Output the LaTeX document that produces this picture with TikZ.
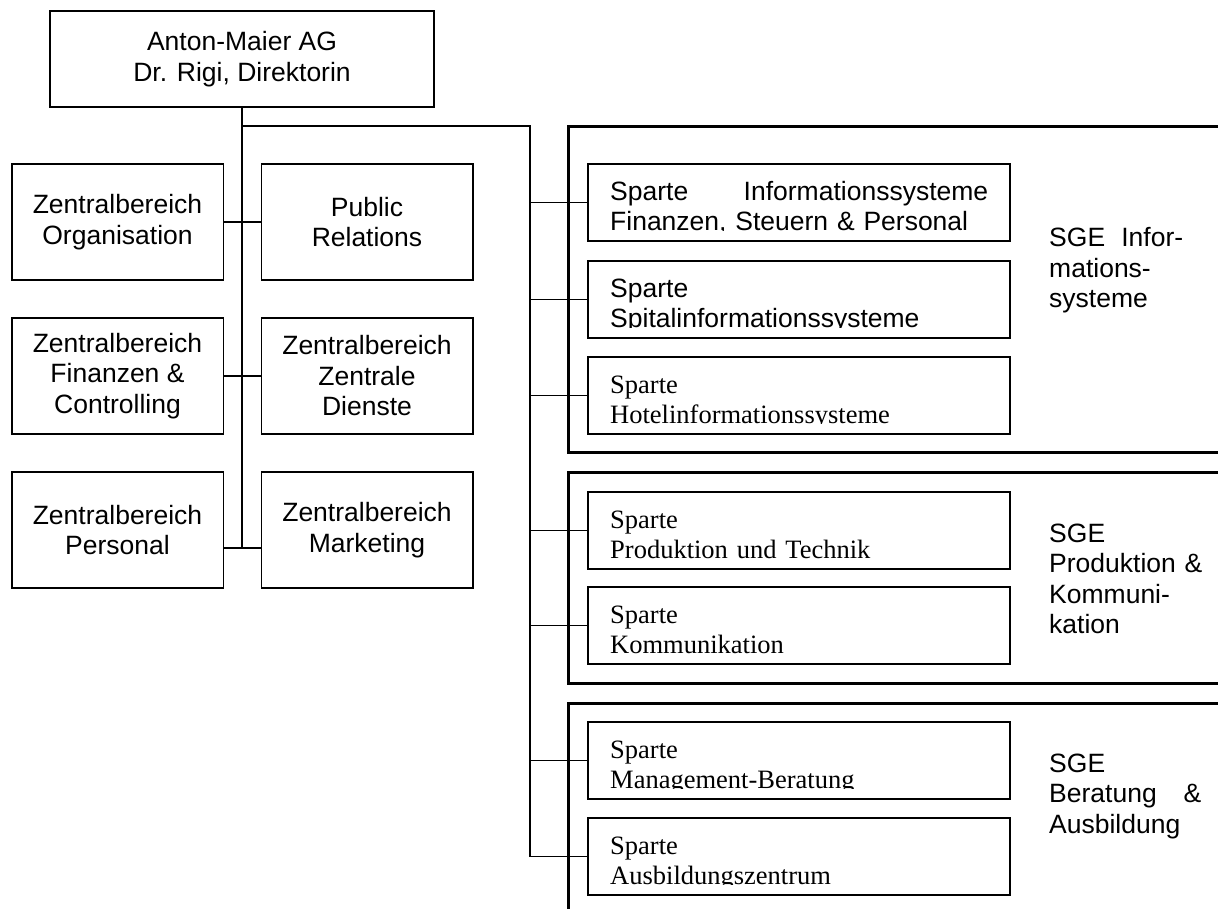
\documentclass[tikz,border=0pt]{standalone}
\usepackage{fontspec}
\setmainfont{Liberation Sans}
\newfontfamily\tnr{Liberation Serif}
\usetikzlibrary{calc}
\newcommand\spartebox[4]{%
  \node[sp] (#1) at (799,#2+38.5) {};
  \begin{scope}
    \clip (588,#2) rectangle (1010,#2+66.5);
    \node[sptext,#3] (#1t) at (610,#2+36.5) {#4};
  \end{scope}}
\begin{document}
\begin{tikzpicture}[x=1pt,y=-1pt,
  box/.style={draw,line width=1.5pt,inner sep=0pt,align=center,
    font=\fontsize{26.5}{30.5}\selectfont},
  zbox/.style={box,minimum width=211.5pt,minimum height=116pt},
  conn/.style={line width=1.3pt},
  sge/.style={line width=3pt},
  sp/.style={draw,line width=1.5pt,minimum width=422pt,minimum height=77pt,inner sep=0pt},
  sptext/.style={anchor=base west,inner sep=0pt,text width=378pt,align=left},
  sansfont/.style={font=\fontsize{26.5}{30}\selectfont},
  seriffont/.style={font=\tnr\fontsize{26.5}{30}\selectfont},
  sgetext/.style={anchor=base west,inner sep=0pt,align=left,
    font=\fontsize{26.5}{30.5}\selectfont}
]
\useasboundingbox (0,0) rectangle (1218,909);

% top
\node[box,minimum width=384pt,minimum height=96pt] (top) at (242,59)
  {Anton-Maier AG\\Dr. Rigi, Direktorin};

% central departments
\node[zbox] (org) at (117.5,222) {Zentralbereich\\Organisation};
\node[zbox] (pr)  at (367,222)   {Public\\Relations};
\node[zbox] (fin) at (117.5,376) {Zentralbereich\\Finanzen \&\\Controlling};
\node[zbox] (zd)  at (367,376)   {Zentralbereich\\Zentrale\\Dienste};
\node[zbox] (per) at (117.5,530) {Zentralbereich\\Personal};
\node[zbox] (mkt) at (367,530)   {Zentralbereich\\Marketing};

% SGE frames
\draw[sge] (1225,127) -- (568,127) -- (568,452) -- (1225,452);
\draw[sge] (1225,472) -- (568,472) -- (568,683) -- (1225,683);
\draw[sge] (1225,703) -- (568,703) -- (568,915);

% Sparten
\spartebox{s1}{164}{sansfont}{Sparte\hfill Informationssysteme\\Finanzen, Steuern \& Personal}
\spartebox{s2}{261}{sansfont}{Sparte\\Spitalinformationssysteme}
\spartebox{s3}{357}{seriffont}{Sparte\\Hotelinformationssysteme}
\spartebox{s4}{492}{seriffont}{Sparte\\Produktion und Technik}
\spartebox{s5}{587}{seriffont}{Sparte\\Kommunikation}
\spartebox{s6}{722}{seriffont}{Sparte\\Management-Beratung}
\spartebox{s7}{818}{seriffont}{Sparte\\Ausbildungszentrum}

% SGE labels
\node[sgetext,text width=134pt] (g1) at (1049,247) {SGE\hfill Infor-\\mations-\\systeme};
\node[sgetext,text width=158pt] (g2) at (1049,542) {SGE\\Produktion \&\\Kommuni-\\kation};
\node[sgetext,text width=152pt] (g3) at (1049,772) {SGE\\Beratung\hfill\&\\Ausbildung};

% connectors
\coordinate (pc) at ([yshift=-18pt]per.east);
\coordinate (mc) at ([yshift=-18pt]mkt.west);
\coordinate (j2) at (530,126);
\draw[conn] (top.south) -- (top.south |- pc);
\draw[conn] (org.east) -- (pr.west);
\draw[conn] (fin.east) -- (zd.west);
\draw[conn] (pc) -- (mc);
\draw[conn] (top.south |- j2) -- (j2) -- (j2 |- s7.west);
\foreach \n in {s1,s2,s3,s4,s5,s6,s7}
  \draw[conn] (j2 |- \n.west) -- (\n.west);
\end{tikzpicture}
\end{document}
